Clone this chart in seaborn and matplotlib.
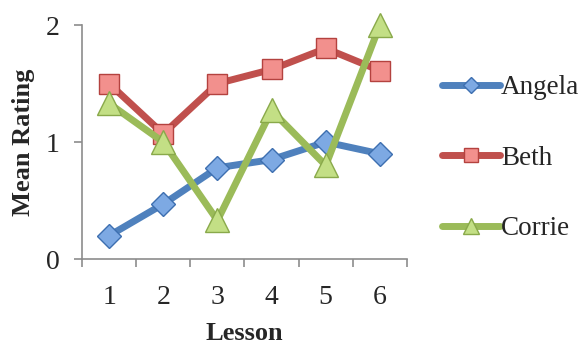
import numpy as np
import pandas as pd
import seaborn as sns
import matplotlib.pyplot as plt
from matplotlib.ticker import FixedLocator

lessons = [1, 2, 3, 4, 5, 6]
angela = [0.20, 0.47, 0.78, 0.85, 1.00, 0.90]
beth = [1.50, 1.07, 1.50, 1.62, 1.80, 1.61]
corrie = [1.33, 1.00, 0.33, 1.27, 0.80, 2.00]
students = ["Angela", "Beth", "Corrie"]
y_ticks = [0, 1, 2]

sns.set_theme(style="white")
plt.rcParams["font.family"] = ["Liberation Serif", "DejaVu Serif"]

df = pd.DataFrame({
    "Lesson": lessons * 3,
    "Rating": angela + beth + corrie,
    "Student": np.repeat(students, len(lessons)),
})

styles = {
    "Angela": dict(color="#4F81BD", marker="D", mfc="#7DA9E3", mec="#3D6FB0", ms=12),
    "Beth": dict(color="#C0504D", marker="s", mfc="#F2908D", mec="#B4423F", ms=15),
    "Corrie": dict(color="#9BBB59", marker="^", mfc="#C3DF85", mec="#89A94A", ms=17),
}

fig = plt.figure(figsize=(5.8, 3.45), dpi=100)
ax = fig.add_axes([0.1414, 0.249, 0.5603, 0.6785])

for name in students:
    s = styles[name]
    sub = df[df["Student"] == name]
    sns.lineplot(data=sub, x="Lesson", y="Rating", ax=ax, color=s["color"],
                 marker=s["marker"], markersize=s["ms"], markerfacecolor=s["mfc"],
                 markeredgecolor=s["mec"], markeredgewidth=1.0, linewidth=5,
                 label=name, clip_on=False, solid_capstyle="round",
                 solid_joinstyle="round")

ax.set_xlim(0.5, 6.5)
ax.set_ylim(0, 2)
ax.set_yticks(y_ticks)
ax.set_xticks(lessons)
ax.xaxis.set_minor_locator(FixedLocator(np.arange(0.5, 7, 1)))

for side in ["top", "right"]:
    ax.spines[side].set_visible(False)
for side in ["left", "bottom"]:
    ax.spines[side].set_color("#8C8C8C")
    ax.spines[side].set_linewidth(1.2)

ax.tick_params(axis="y", which="major", direction="out", length=6, width=1.2,
               color="#8C8C8C", labelsize=20, pad=10, left=True)
ax.tick_params(axis="x", which="major", length=0, labelsize=20, pad=19, bottom=True)
ax.tick_params(axis="x", which="minor", direction="out", length=6, width=1.2,
               color="#8C8C8C", bottom=True)

ax.set_xlabel("Lesson", fontsize=19, fontweight="bold", labelpad=8)
ax.set_ylabel("Mean Rating", fontsize=19, fontweight="bold", labelpad=8)

leg = ax.legend(loc="center left", bbox_to_anchor=(1.108, 0.43), frameon=False,
                fontsize=19.5, handlelength=2.15, handletextpad=0.02, labelspacing=1.68,
                borderaxespad=0, borderpad=0, markerscale=0.7)

fig.savefig("out.png", dpi=100)
